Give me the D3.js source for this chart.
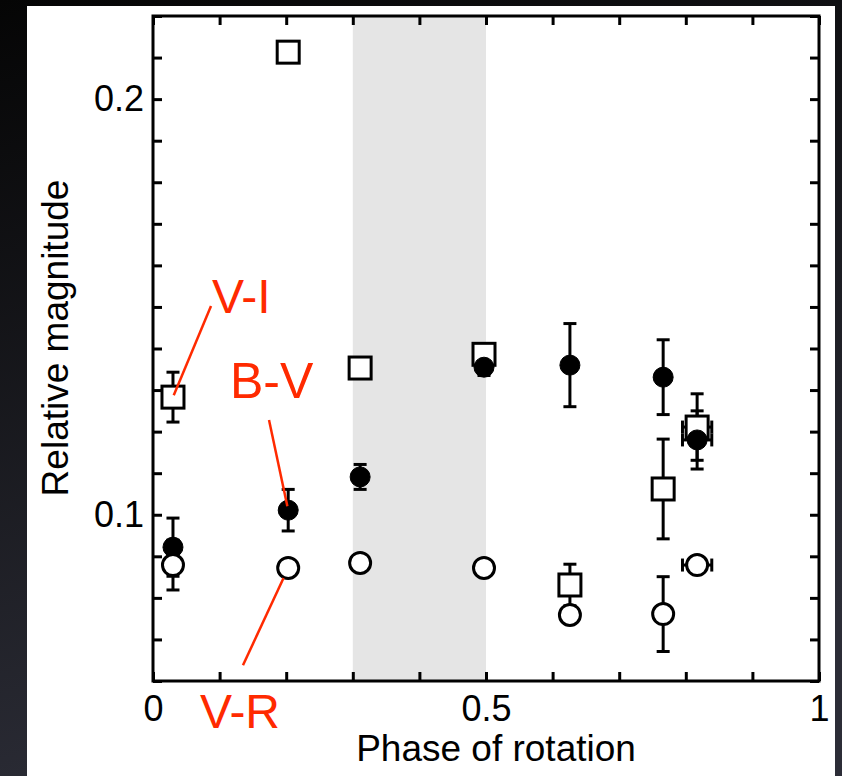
<!DOCTYPE html>
<html>
<head>
<meta charset="utf-8">
<script src="https://cdn.jsdelivr.net/npm/d3@7"></script>
<style>
	body { margin: 0; background: #0b0b0d; }
	svg { display: block; }
	text { font-family: "Liberation Sans", Arial, sans-serif; }
</style>
</head>
<body>
<div id="chart"></div>
<script>
// rotation phase of each observation
var phases = [0.03, 0.203, 0.311, 0.497, 0.626, 0.766, 0.817];
var phaseErr = [0, 0, 0, 0, 0, 0, 0.022];

// colour indices (relative magnitude) and their errors
var viValues = [0.1283, 0.2113, 0.1353, 0.1386, 0.0831, 0.1062, 0.1211];
var viErr    = [0.006, 0, 0, 0, 0.005, 0.012, 0.008];
var bvValues = [0.0922, 0.1011, 0.1091, 0.1355, 0.1360, 0.1331, 0.1180];
var bvErr    = [0.007, 0.005, 0.003, 0.002, 0.010, 0.009, 0.007];
var vrValues = [0.0879, 0.0872, 0.0884, 0.0872, 0.0759, 0.0761, 0.0879];
var vrErr    = [0.006, 0, 0, 0, 0, 0.009, 0];

// shaded phase interval
var shadeRange = [0.3, 0.5];

// axis ticks
var xTicks = d3.range(0, 11).map(i => i / 10);
var xTickLabels = [0, 0.5, 1];
var yTicks = d3.range(6, 23).map(i => i / 100);
var yTickLabels = [0.1, 0.2];

function init(){
	scatter();
}

function scatter(){
	var width = 842;
	var height = 776;
	var plot = {left: 153, right: 819, top: 16, bottom: 681};

	var x = d3.scaleLinear().domain([0, 1]).range([plot.left, plot.right]);
	var y = d3.scaleLinear().domain([0.06, 0.22]).range([plot.bottom, plot.top]);

	var svg = d3.select("#chart").append("svg")
				.attr("width", width)
				.attr("height", height);

	//dark slide background with a white card
	var grad = svg.append("defs").append("linearGradient")
				  .attr("id", "bg").attr("x1", 0).attr("y1", 0).attr("x2", 0.3).attr("y2", 1);
	grad.append("stop").attr("offset", "0%").attr("stop-color", "#050505");
	grad.append("stop").attr("offset", "100%").attr("stop-color", "#2c2d37");
	svg.append("rect").attr("width", width).attr("height", height).attr("fill", "url(#bg)");
	svg.append("rect")
	   .attr("x", 27).attr("y", 6)
	   .attr("width", 808).attr("height", height - 6)
	   .attr("fill", "white");

	//grey band
	svg.append("rect")
	   .attr("x", x(shadeRange[0]))
	   .attr("y", plot.top)
	   .attr("width", x(shadeRange[1]) - x(shadeRange[0]))
	   .attr("height", plot.bottom - plot.top)
	   .attr("fill", "#e5e5e5");

	var near = (list, d) => list.some(v => Math.abs(v - d) < 1e-9);
	var xFmt = d => near(xTickLabels, d) ? String(+d.toFixed(1)) : "";
	var yFmt = d => near(yTickLabels, d) ? String(+d.toFixed(2)) : "";

	//axes with inward ticks on all four sides
	var axes = [
		{axis: d3.axisBottom(x).tickValues(xTicks).tickFormat(xFmt).tickPadding(14), t: "translate(0," + plot.bottom + ")"},
		{axis: d3.axisTop(x).tickValues(xTicks).tickFormat(""), t: "translate(0," + plot.top + ")"},
		{axis: d3.axisLeft(y).tickValues(yTicks).tickFormat(yFmt).tickPadding(9), t: "translate(" + plot.left + ",0)"},
		{axis: d3.axisRight(y).tickValues(yTicks).tickFormat(""), t: "translate(" + plot.right + ",0)"}
	];
	axes.forEach(function(a){
		var g = svg.append("g")
				   .attr("transform", a.t)
				   .call(a.axis.tickSizeInner(-9).tickSizeOuter(0));
		g.select(".domain").remove();
		g.selectAll(".tick line").attr("stroke", "black").attr("stroke-width", 3);
		g.selectAll(".tick text")
		 .attr("fill", "black")
		 .style("font-size", "36px")
		 .style("font-family", "'Liberation Sans', Arial, sans-serif");
	});

	svg.append("rect")
	   .attr("x", plot.left).attr("y", plot.top)
	   .attr("width", plot.right - plot.left)
	   .attr("height", plot.bottom - plot.top)
	   .attr("fill", "none")
	   .attr("stroke", "black")
	   .attr("stroke-width", 3);

	//axis titles
	svg.append("text")
	   .attr("x", 496).attr("y", 761)
	   .attr("text-anchor", "middle")
	   .attr("fill", "black")
	   .style("font-size", "37px")
	   .text("Phase of rotation");

	svg.append("text")
	   .attr("transform", "translate(68,338) rotate(-90)")
	   .attr("text-anchor", "middle")
	   .attr("fill", "black")
	   .style("font-size", "37px")
	   .text("Relative magnitude");

	var series = [
		{name: "V-I", values: viValues, err: viErr, shape: "square"},
		{name: "B-V", values: bvValues, err: bvErr, shape: "filled"},
		{name: "V-R", values: vrValues, err: vrErr, shape: "open"}
	];

	//error bars first so the markers sit on top
	var cap = 6.5;
	series.forEach(function(s){
		var pts = phases.map((p, i) => ({p: p, v: s.values[i], e: s.err[i], xe: phaseErr[i]}));
		var g = svg.append("g").attr("stroke", "black").attr("stroke-width", 3);
		pts.filter(d => d.e > 0).forEach(function(d){
			var cx = x(d.p);
			g.append("line").attr("x1", cx).attr("x2", cx).attr("y1", y(d.v - d.e)).attr("y2", y(d.v + d.e));
			g.append("line").attr("x1", cx - cap).attr("x2", cx + cap).attr("y1", y(d.v - d.e)).attr("y2", y(d.v - d.e));
			g.append("line").attr("x1", cx - cap).attr("x2", cx + cap).attr("y1", y(d.v + d.e)).attr("y2", y(d.v + d.e));
		});
		pts.filter(d => d.xe > 0).forEach(function(d){
			var cy = y(d.v);
			g.append("line").attr("x1", x(d.p - d.xe)).attr("x2", x(d.p + d.xe)).attr("y1", cy).attr("y2", cy);
			g.append("line").attr("x1", x(d.p - d.xe)).attr("x2", x(d.p - d.xe)).attr("y1", cy - cap).attr("y2", cy + cap);
			g.append("line").attr("x1", x(d.p + d.xe)).attr("x2", x(d.p + d.xe)).attr("y1", cy - cap).attr("y2", cy + cap);
		});
	});

	//markers
	series.forEach(function(s){
		var g = svg.append("g");
		if(s.shape == "square"){
			g.selectAll("rect").data(s.values).enter()
			 .append("rect")
			 .attr("x", (d, i) => x(phases[i]) - 11)
			 .attr("y", d => y(d) - 11)
			 .attr("width", 22).attr("height", 22)
			 .attr("fill", "white")
			 .attr("stroke", "black")
			 .attr("stroke-width", 3);
		}else{
			g.selectAll("circle").data(s.values).enter()
			 .append("circle")
			 .attr("cx", (d, i) => x(phases[i]))
			 .attr("cy", d => y(d))
			 .attr("r", s.shape == "filled" ? 10 : 10.5)
			 .attr("fill", s.shape == "filled" ? "black" : "white")
			 .attr("stroke", "black")
			 .attr("stroke-width", s.shape == "filled" ? 1 : 3);
		}
	});

	//red call-outs pointing at one marker of each series
	var callouts = [
		{label: "V-I", series: 0, point: 0, text: [0.0886, 0.1485], from: [0.0871, 0.1502], gap: 2, size: 48},
		{label: "B-V", series: 1, point: 1, text: [0.1156, 0.1281], from: [0.1742, 0.1228], gap: 4, size: 50},
		{label: "V-R", series: 2, point: 1, text: [0.0706, 0.0487], from: [0.1351, 0.0638], gap: 11, size: 48}
	];
	callouts.forEach(function(c){
		var s = series[c.series];
		var tx = x(phases[c.point]), ty = y(s.values[c.point]);
		var fx = x(c.from[0]), fy = y(c.from[1]);
		var len = Math.hypot(tx - fx, ty - fy);
		var k = (len - c.gap) / len;
		svg.append("line")
		   .attr("x1", fx).attr("y1", fy)
		   .attr("x2", fx + (tx - fx) * k).attr("y2", fy + (ty - fy) * k)
		   .attr("stroke", "#ff2a00")
		   .attr("stroke-width", 2.5);
		svg.append("text")
		   .attr("x", x(c.text[0])).attr("y", y(c.text[1]))
		   .attr("fill", "#ff2a00")
		   .style("font-size", c.size + "px")
		   .text(c.label);
	});
}

window.onload = init;
</script>
</body>
</html>
